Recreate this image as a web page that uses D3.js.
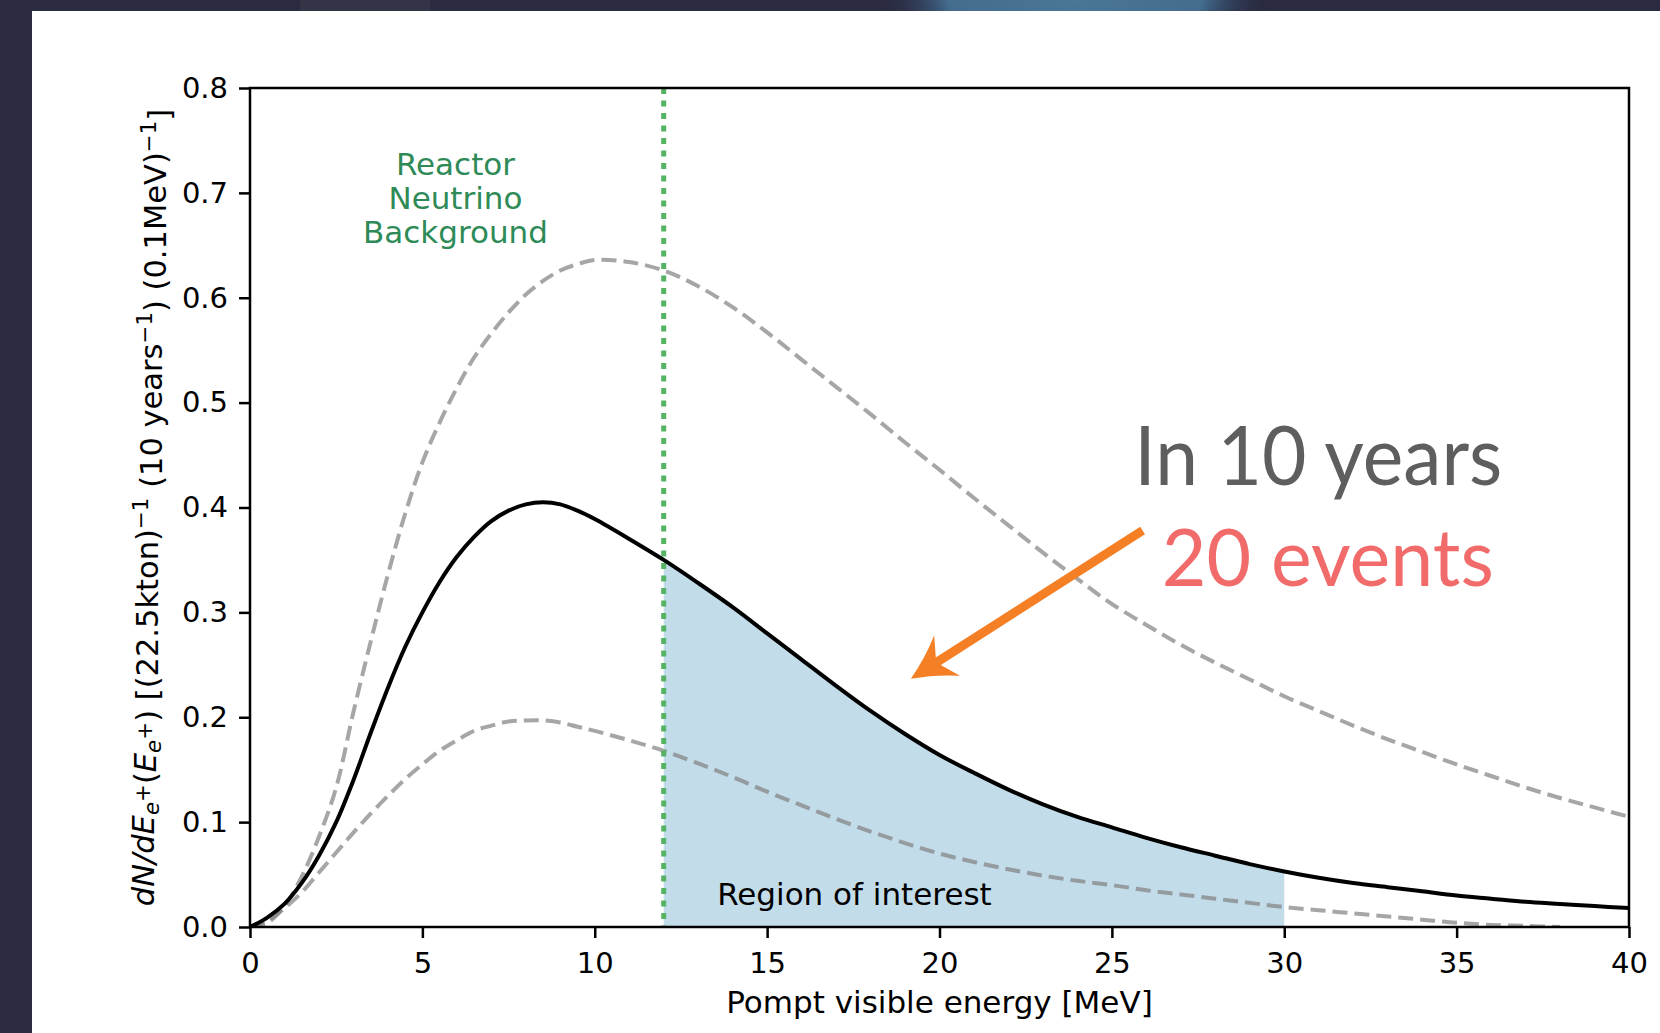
<!DOCTYPE html>
<html lang="en">
<head>
  <meta charset="UTF-8">
  <title>Positron spectrum</title>
  <script src="https://d3js.org/d3.v7.min.js"></script>
  <style>
    body { margin: 0; background: #2a2a40; }
    text { font-family: "DejaVu Sans", sans-serif; }
  </style>
</head>
<body>
  <div id="chart"></div>

  <script>
    // energies (MeV)
    const energy = [0, 0.5, 1, 1.5, 2, 2.5, 3, 3.5, 4, 4.5, 5, 5.5, 6, 6.5, 7, 7.5, 8, 8.5, 9, 9.5, 10,
      11, 12, 13, 14, 15, 16, 17, 18, 19, 20, 21, 22, 23, 24, 25, 26, 27, 28, 29, 30,
      31, 32, 33, 34, 35, 36, 37, 38, 39, 40];

    // central prediction (solid black)
    const central = [0, 0.009, 0.022, 0.042, 0.068, 0.100, 0.140, 0.185, 0.228, 0.267, 0.300, 0.329, 0.353, 0.372, 0.387, 0.397, 0.403, 0.405, 0.403, 0.397, 0.389,
      0.370, 0.350, 0.328, 0.305, 0.280, 0.255, 0.230, 0.206, 0.184, 0.164, 0.147, 0.131, 0.117, 0.105, 0.095, 0.085, 0.076, 0.068, 0.060, 0.053,
      0.047, 0.042, 0.038, 0.034, 0.030, 0.027, 0.024, 0.022, 0.020, 0.018];

    // upper band (dashed grey)
    const upper = [0, 0.004, 0.020, 0.048, 0.086, 0.133, 0.205, 0.272, 0.336, 0.394, 0.443, 0.481, 0.514, 0.543, 0.566, 0.586, 0.603, 0.616, 0.626, 0.632, 0.636,
      0.634, 0.626, 0.611, 0.591, 0.567, 0.541, 0.515, 0.489, 0.462, 0.436, 0.409, 0.383, 0.357, 0.332, 0.308, 0.288, 0.269, 0.252, 0.236, 0.220,
      0.206, 0.192, 0.179, 0.167, 0.155, 0.144, 0.133, 0.123, 0.114, 0.105];

    // lower band (dashed grey)
    const lower = [0, 0.006, 0.018, 0.033, 0.052, 0.071, 0.090, 0.108, 0.125, 0.141, 0.155, 0.168, 0.178, 0.187, 0.192, 0.196, 0.197, 0.197, 0.195, 0.191, 0.187,
      0.178, 0.168, 0.156, 0.143, 0.129, 0.116, 0.103, 0.091, 0.080, 0.070, 0.062, 0.055, 0.049, 0.044, 0.040, 0.035, 0.031, 0.027, 0.023, 0.019,
      0.016, 0.013, 0.010, 0.007, 0.004, 0.002, 0.001, 0, 0, 0];

    const xTicks = [0, 5, 10, 15, 20, 25, 30, 35, 40];
    const yTicks = [0, 0.1, 0.2, 0.3, 0.4, 0.5, 0.6, 0.7, 0.8];
    const reactorCut = 12;
    const roiRange = [12, 30];

    const W = 1660, H = 1033;
    const margin = { top: 88, right: 31, bottom: 106, left: 250 };
    const width = W - margin.left - margin.right;
    const height = H - margin.top - margin.bottom;

    const svgRoot = d3.select("#chart").append("svg")
      .attr("width", W)
      .attr("height", H)
      .style("display", "block");

    // slide backdrop
    const defs = svgRoot.append("defs");
    const blob = defs.append("radialGradient").attr("id", "blob");
    blob.append("stop").attr("offset", "0%").attr("stop-color", "#4a7698");
    blob.append("stop").attr("offset", "65%").attr("stop-color", "#436c8e");
    blob.append("stop").attr("offset", "100%").attr("stop-color", "#282c44").attr("stop-opacity", 0);

    svgRoot.append("rect").attr("width", W).attr("height", H).attr("fill", "#2a2a40");
    svgRoot.append("rect").attr("x", 300).attr("y", 0).attr("width", 130).attr("height", 12).attr("fill", "#343447");
    svgRoot.append("ellipse").attr("cx", 1075).attr("cy", 0).attr("rx", 195).attr("ry", 70).attr("fill", "url(#blob)");
    svgRoot.append("rect").attr("x", 32).attr("y", 11).attr("width", W - 32).attr("height", H - 11).attr("fill", "#fff");

    const svg = svgRoot.append("g")
      .attr("transform", `translate(${margin.left},${margin.top})`);

    defs.append("clipPath").attr("id", "plotClip")
      .append("rect").attr("width", width).attr("height", height);

    const x = d3.scaleLinear().domain([0, 40]).range([0, width]);
    const y = d3.scaleLinear().domain([0, 0.8]).range([height, 0]);

    const pts = arr => energy.map((e, i) => ({ e: e, v: arr[i] }));
    const curve = d3.curveCatmullRom.alpha(0.5);

    const line = d3.line()
      .x(d => x(d.e))
      .y(d => y(d.v))
      .curve(curve);

    const plot = svg.append("g").attr("clip-path", "url(#plotClip)");

    // region of interest fill under the central curve
    const roi = pts(central).filter(d => d.e >= roiRange[0] && d.e <= roiRange[1]);
    plot.append("path")
      .datum(roi)
      .attr("fill", "#c3dcea")
      .attr("d", d3.area().x(d => x(d.e)).y0(y(0)).y1(d => y(d.v)).curve(curve));

    // dashed bands
    plot.append("path")
      .datum(pts(upper))
      .attr("fill", "none")
      .attr("stroke", "#808080")
      .attr("stroke-opacity", 0.7)
      .attr("stroke-width", 4)
      .attr("stroke-dasharray", "15,7")
      .attr("d", line);

    const lowerPts = pts(lower).filter((d, i) => !(d.v === 0 && i > 0 && lower[i - 1] === 0));
    plot.append("path")
      .datum(lowerPts)
      .attr("fill", "none")
      .attr("stroke", "#808080")
      .attr("stroke-opacity", 0.7)
      .attr("stroke-width", 4)
      .attr("stroke-dasharray", "15,7")
      .attr("d", line);

    // reactor background cut
    plot.append("line")
      .attr("x1", x(reactorCut)).attr("x2", x(reactorCut))
      .attr("y1", 0).attr("y2", height)
      .attr("stroke", "#55b464")
      .attr("stroke-width", 5)
      .attr("stroke-dasharray", "6,6.5");

    plot.append("path")
      .datum(pts(central))
      .attr("fill", "none")
      .attr("stroke", "#000")
      .attr("stroke-width", 4)
      .attr("d", line);

    // axes
    svg.append("g")
      .attr("class", "x axis")
      .attr("transform", `translate(0,${height})`)
      .call(d3.axisBottom(x).tickValues(xTicks).tickSize(11).tickPadding(14).tickSizeOuter(0));

    svg.append("g")
      .attr("class", "y axis")
      .call(d3.axisLeft(y).tickValues(yTicks).tickFormat(d3.format(".1f")).tickSize(11).tickPadding(11).tickSizeOuter(0));

    svg.selectAll(".axis .domain").remove();
    svg.selectAll(".axis line").attr("stroke", "#000").attr("stroke-width", 2.5);
    svg.selectAll(".axis text")
      .attr("fill", "#000")
      .style("font-size", "29px")
      .style("font-family", "'DejaVu Sans', sans-serif");

    svg.append("rect")
      .attr("width", width).attr("height", height)
      .attr("fill", "none")
      .attr("stroke", "#000")
      .attr("stroke-width", 2.5);

    // labels
    svg.append("text")
      .attr("x", width / 2)
      .attr("y", height + 86)
      .attr("text-anchor", "middle")
      .style("font-size", "31px")
      .text("Pompt visible energy [MeV]");

    const yl = svg.append("text")
      .attr("transform", `translate(-96,${height / 2}) rotate(-90)`)
      .attr("text-anchor", "middle")
      .style("font-size", "30.5px");
    const sub = (t, str, dy) => t.append("tspan").attr("dy", dy).style("font-size", "0.7em").text(str);
    yl.append("tspan").style("font-style", "italic").text("dN/dE");
    sub(yl, "e", "0.25em").style("font-style", "italic");
    sub(yl, "+", "-0.45em");
    yl.append("tspan").attr("dy", "0.2em").text("(");
    yl.append("tspan").style("font-style", "italic").text("E");
    sub(yl, "e", "0.25em").style("font-style", "italic");
    sub(yl, "+", "-0.45em");
    yl.append("tspan").attr("dy", "0.2em").text(") [(22.5kton)");
    sub(yl, "\u22121", "-0.45em");
    yl.append("tspan").attr("dy", "0.45em").text(" (10 years");
    sub(yl, "\u22121", "-0.45em");
    yl.append("tspan").attr("dy", "0.45em").text(") (0.1MeV)");
    sub(yl, "\u22121", "-0.45em");
    yl.append("tspan").attr("dy", "0.45em").text("]");

    // annotations
    const reactorLines = ["Reactor", "Neutrino", "Background"];
    svg.append("text")
      .attr("text-anchor", "middle")
      .attr("fill", "#2e8b57")
      .style("font-size", "31px")
      .selectAll("tspan")
      .data(reactorLines)
      .join("tspan")
      .attr("x", x(5.96))
      .attr("y", (d, i) => y(0.717) + i * 34)
      .text(d => d);

    svg.append("text")
      .attr("x", x(13.55))
      .attr("y", y(0.0213))
      .style("font-size", "31px")
      .attr("fill", "#000")
      .text("Region of interest");

    svg.append("text")
      .attr("x", x(25.65))
      .attr("y", y(0.4216))
      .attr("fill", "#5e5e5e")
      .attr("textLength", 368)
      .attr("lengthAdjust", "spacingAndGlyphs")
      .style("font-family", "Lato, 'Open Sans', sans-serif")
      .style("font-size", "81px")
      .text("In 10 years");

    svg.append("text")
      .attr("x", x(26.45))
      .attr("y", y(0.3253))
      .attr("fill", "#f26b6b")
      .attr("textLength", 332)
      .attr("lengthAdjust", "spacingAndGlyphs")
      .style("font-family", "Lato, 'Open Sans', sans-serif")
      .style("font-size", "79px")
      .text("20 events");

    // orange arrow, data coords of tail and tip
    const tail = [x(25.89), y(0.378)];
    const tip = [x(19.17), y(0.2367)];
    const ang = Math.atan2(tip[1] - tail[1], tip[0] - tail[0]);
    const len = Math.hypot(tip[0] - tail[0], tip[1] - tail[1]);
    const arrow = svg.append("g")
      .attr("transform", `translate(${tail[0]},${tail[1]}) rotate(${ang * 180 / Math.PI})`);
    arrow.append("line")
      .attr("x1", 0).attr("y1", 0)
      .attr("x2", len - 30).attr("y2", 0)
      .attr("stroke", "#f47f24")
      .attr("stroke-width", 9);
    arrow.append("path")
      .attr("fill", "#f47f24")
      .attr("d", `M${len},0 Q${len - 24},-10 ${len - 43},-24 L${len - 30},0 L${len - 43},24 Q${len - 24},10 ${len},0 Z`);
  </script>
</body>
</html>
